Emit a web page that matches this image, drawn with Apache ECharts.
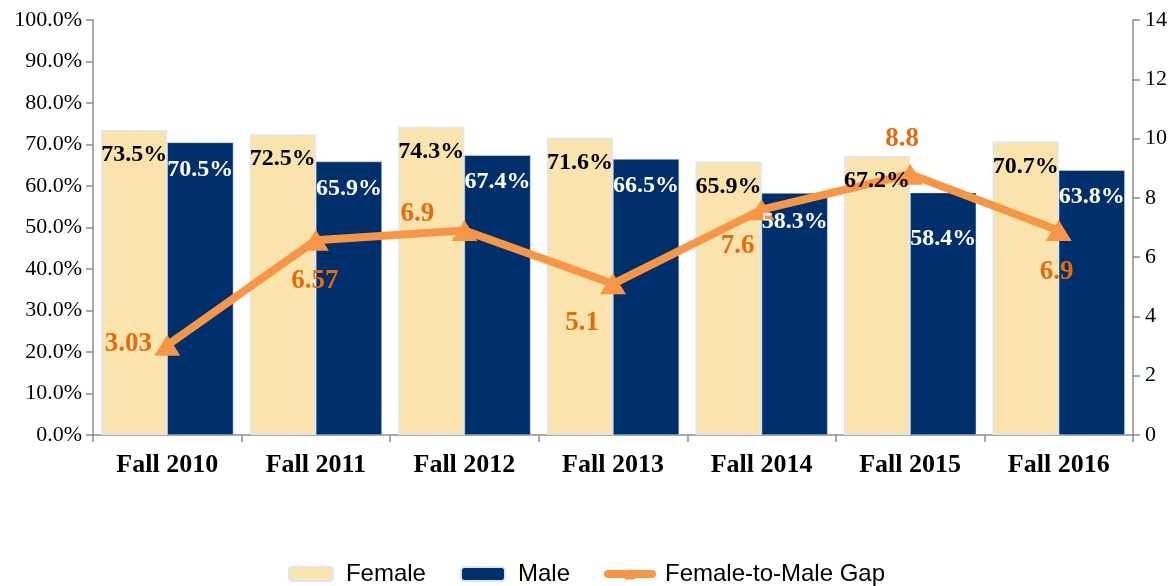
<!DOCTYPE html>
<html>
<head>
<meta charset="utf-8">
<script src="https://cdn.jsdelivr.net/npm/echarts@6/dist/echarts.min.js"></script>
<style>
  html, body { margin: 0; padding: 0; background: #fff; }
  #chart { width: 1173px; height: 586px; }
</style>
</head>
<body>
<div id="chart"></div>
<script>
// chart values
const categories = ['Fall 2010', 'Fall 2011', 'Fall 2012', 'Fall 2013', 'Fall 2014', 'Fall 2015', 'Fall 2016'];
const femaleRates = [73.5, 72.5, 74.3, 71.6, 65.9, 67.2, 70.7];
const maleRates = [70.5, 65.9, 67.4, 66.5, 58.3, 58.4, 63.8];
const gapValues = [3.03, 6.57, 6.9, 5.1, 7.6, 8.8, 6.9];
const gapLabels = ['3.03', '6.57', '6.9', '5.1', '7.6', '8.8', '6.9'];

// where each gap label sits relative to its marker
const gapLabelOffsets = [[-39, -1], [-1, 41], [-47, -16], [-31, 39], [-24, 36], [-8, -35], [-2, 42]];
// extra downward nudge for the male labels
const maleLabelNudge = [0, 0, 0, 0, 2, 19, 0];

const serif = '"Liberation Serif", "Times New Roman", serif';
const axisGray = '#8c8c8c';
const pct = p => p.value.toFixed(1) + '%';

const chart = echarts.init(document.getElementById('chart'));

const hiddenAxis = { type: 'category', data: categories, show: false };

const option = {
  animation: false,
  grid: { left: 93, right: 40, top: 20, bottom: 151 },
  legend: {
    top: 557,
    left: 'center',
    itemWidth: 44,
    itemHeight: 14,
    itemGap: 34,
    textStyle: { fontFamily: '"Liberation Sans", Arial, sans-serif', fontSize: 24, color: '#000', padding: [0, 0, 0, 8] },
    data: [
      { name: 'Female' },
      { name: 'Male' },
      { name: 'Female-to-Male Gap', itemStyle: { color: '#F79646' }, lineStyle: { width: 8, color: '#F79646', cap: 'round' } }
    ]
  },
  xAxis: [
    {
      type: 'category',
      data: categories,
      axisLine: { lineStyle: { color: axisGray, width: 1.5 } },
      axisTick: { show: true, length: 7, lineStyle: { color: axisGray, width: 1.5 } },
      axisLabel: { fontFamily: serif, fontSize: 26, fontWeight: 'bold', color: '#000', margin: 17 }
    },
    hiddenAxis
  ],
  yAxis: [
    {
      type: 'value', min: 0, max: 100, interval: 10,
      splitLine: { show: false },
      axisLine: { show: true, lineStyle: { color: axisGray, width: 1.5 } },
      axisTick: { show: true, length: 7, lineStyle: { color: axisGray, width: 1.5 } },
      axisLabel: { fontFamily: serif, fontSize: 22, color: '#000', margin: 11,
        formatter: v => v.toFixed(1) + '%' }
    },
    {
      type: 'value', min: 0, max: 14, interval: 2,
      splitLine: { show: false },
      axisLine: { show: true, lineStyle: { color: axisGray, width: 1.5 } },
      axisTick: { show: true, length: 7, lineStyle: { color: axisGray, width: 1.5 } },
      axisLabel: { fontFamily: serif, fontSize: 22, color: '#000', margin: 12 }
    }
  ],
  series: [
    {
      name: 'Female',
      type: 'bar',
      data: femaleRates,
      barGap: '0%',
      barCategoryGap: '11%',
      itemStyle: { color: '#FBE3AE', borderColor: '#DCE6F2', borderWidth: 1.5 }
    },
    {
      name: 'Male',
      type: 'bar',
      data: maleRates,
      itemStyle: { color: '#00306C', borderColor: '#DCE6F2', borderWidth: 0.5 }
    },
    {
      name: 'Female-to-Male Gap',
      type: 'line',
      yAxisIndex: 1,
      symbol: 'triangle',
      symbolSize: [26, 21],
      lineStyle: { color: '#F79646', width: 8 },
      itemStyle: { color: '#F79646' },
      data: gapValues.map((v, i) => ({
        value: v,
        label: { offset: gapLabelOffsets[i] }
      })),
      label: {
        show: true, position: 'inside',
        fontFamily: serif, fontSize: 27, fontWeight: 'bold', color: '#E46C0A',
        formatter: p => gapLabels[p.dataIndex]
      }
    },
    // bar value labels, drawn on top of the line
    {
      name: 'Female values',
      type: 'bar',
      xAxisIndex: 1,
      z: 10,
      silent: true,
      data: femaleRates,
      barGap: '0%',
      barCategoryGap: '11%',
      itemStyle: { color: 'rgba(0,0,0,0)' },
      label: {
        show: true, position: 'insideTop', distance: 13,
        fontFamily: serif, fontSize: 24, fontWeight: 'bold', color: '#000',
        formatter: pct
      }
    },
    {
      name: 'Male values',
      type: 'bar',
      xAxisIndex: 1,
      z: 10,
      silent: true,
      data: maleRates.map((v, i) => ({ value: v, label: { offset: [0, maleLabelNudge[i]] } })),
      itemStyle: { color: 'rgba(0,0,0,0)' },
      label: {
        show: true, position: 'insideTop', distance: 15,
        fontFamily: serif, fontSize: 24, fontWeight: 'bold', color: '#fff',
        formatter: pct
      }
    }
  ]
};

chart.setOption(option);
</script>
</body>
</html>
